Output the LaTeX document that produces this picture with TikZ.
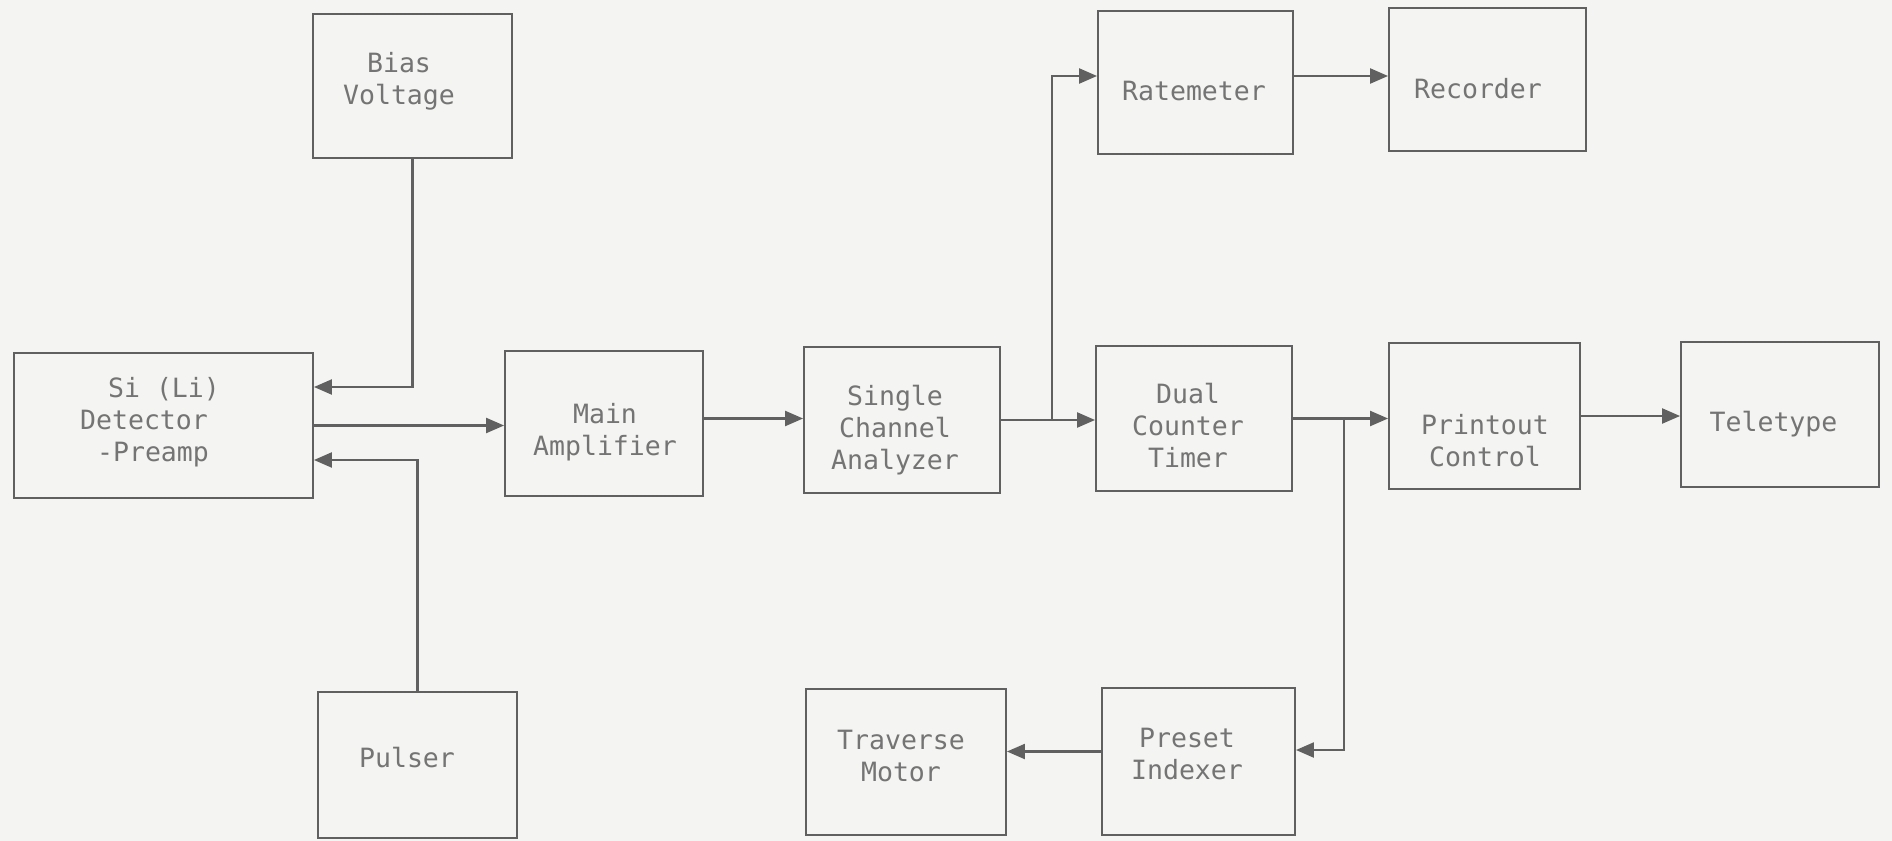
\documentclass[tikz,border=0pt]{standalone}
\usepackage{fontspec}
\setmonofont{DejaVu Sans Mono}
\usetikzlibrary{arrows.meta}
\definecolor{bg}{HTML}{F4F4F2}
\definecolor{ln}{HTML}{606060}
\definecolor{tx}{HTML}{747474}
\begin{document}
\begin{tikzpicture}[x=0.02cm,y=-0.02cm,
  blk/.style={draw=ln, line width=1.1pt, inner sep=0pt},
  txt/.style={inner sep=0pt, align=center, text=tx,
    font=\ttfamily\fontsize{15.1}{18.2}\selectfont},
  arr/.style={draw=ln, line width=1.3pt, -{Triangle[length=0.36cm,width=0.3cm]}}]
\fill[bg] (0,0) rectangle (1892,841);
\useasboundingbox (0,0) rectangle (1892,841);

% boxes
\node[blk, minimum width=3.98cm, minimum height=2.88cm] (bias) at (412.5,86) {};
\node[blk, minimum width=5.98cm, minimum height=2.90cm] (det) at (163.5,425.5) {};
\node[blk, minimum width=3.98cm, minimum height=2.92cm] (pulser) at (417.5,765) {};
\node[blk, minimum width=3.96cm, minimum height=2.90cm] (main) at (604,423.5) {};
\node[blk, minimum width=3.92cm, minimum height=2.92cm] (sca) at (902,420) {};
\node[blk, minimum width=3.90cm, minimum height=2.86cm] (rate) at (1195.5,82.5) {};
\node[blk, minimum width=3.94cm, minimum height=2.86cm] (rec) at (1487.5,79.5) {};
\node[blk, minimum width=3.92cm, minimum height=2.90cm] (dual) at (1194,418.5) {};
\node[blk, minimum width=3.82cm, minimum height=2.92cm] (print) at (1484.5,416) {};
\node[blk, minimum width=3.96cm, minimum height=2.90cm] (tele) at (1780,414.5) {};
\node[blk, minimum width=4.00cm, minimum height=2.92cm] (trav) at (906,762) {};
\node[blk, minimum width=3.86cm, minimum height=2.94cm] (preset) at (1198.5,761.5) {};

% texts
\node[txt] (biasT) at (399,81) {Bias\\Voltage};
\node[txt] (detT) at (164,422) {Si (Li)\\\hspace*{-0.8cm}Detector\\\hspace*{-0.44cm}-Preamp};
\node[txt] (pulserT) at (407,758) {Pulser};
\node[txt] (mainT) at (605,432.5) {Main\\Amplifier};
\node[txt] (scaT) at (895,430.5) {Single\\Channel\\Analyzer};
\node[txt] (rateT) at (1194,91) {Ratemeter};
\node[txt] (recT) at (1478,89) {Recorder};
\node[txt] (dualT) at (1188,426) {Dual\\Counter\\Timer};
\node[txt] (printT) at (1485,441) {Printout\\Control};
\node[txt] (teleT) at (1773.5,424) {Teletype};
\node[txt] (travT) at (901,756) {Traverse\\Motor};
\node[txt] (presetT) at (1187,754) {Preset\\Indexer};

% left part
\draw[arr] (bias.south) |- ([yshift=0.77cm]det.east);
\draw[arr] (pulser.north) |- ([yshift=-0.69cm]det.east);
\draw[arr] (det.east) -- (det.east -| main.west);
\draw[arr] ([yshift=0.1cm]main.east) -- ([yshift=0.1cm]main.east -| sca.west);

% SCA to dual counter and ratemeter
\draw[arr] (sca.east) -- (sca.east -| dual.west);
\coordinate (b1) at (1052,420);
\draw[arr] (b1) |- ([yshift=0.13cm]rate.west);
\draw[arr] ([yshift=0.13cm]rate.east) -- ([yshift=0.13cm]rate.east -| rec.west);

% dual counter to printout, preset
\draw[arr] (dual.east) -- (dual.east -| print.west);
\coordinate (b2) at (1344,418.5);
\draw[arr] (b2) |- ([yshift=0.23cm]preset.east);
\draw[arr] (print.east) -- (print.east -| tele.west);
\draw[arr] ([yshift=0.2cm]preset.west) -- ([yshift=0.2cm]preset.west -| trav.east);
\end{tikzpicture}
\end{document}
